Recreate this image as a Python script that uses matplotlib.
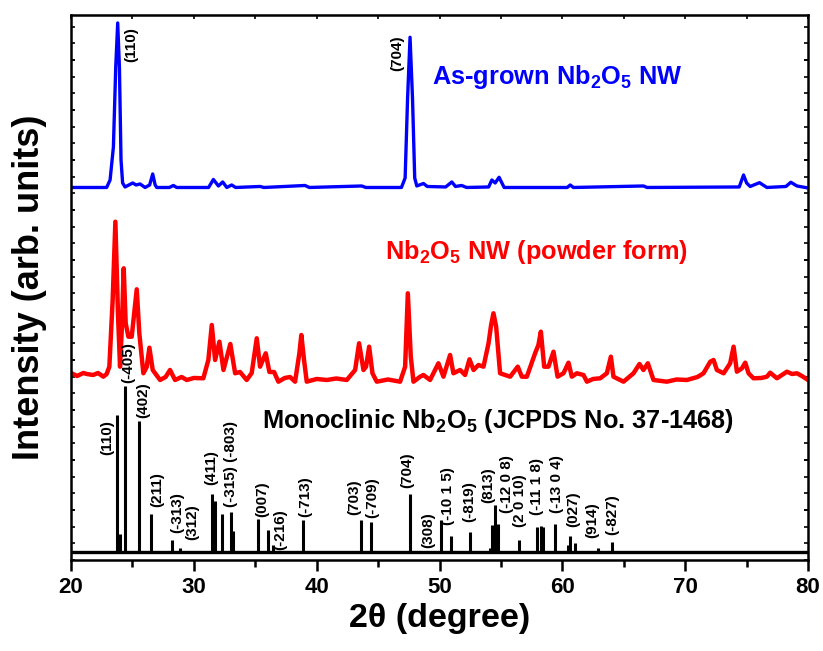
import numpy as np
import matplotlib
matplotlib.use("Agg")
from matplotlib import pyplot as plt
from matplotlib.ticker import MultipleLocator

plt.rcParams['font.family'] = ['Liberation Sans', 'DejaVu Sans']
plt.rcParams['font.weight'] = 'bold'
plt.rcParams['mathtext.default'] = 'regular'

# as-grown NW pattern (2theta, intensity above its own baseline)
blue_tt = [20.0, 22.9, 23.18, 23.45, 23.64, 23.8, 23.94, 24.07, 24.2, 24.4, 25.02, 25.3,
           25.62, 26.03, 26.4, 26.65, 26.85, 26.98, 28.0, 28.33, 28.6, 31.2, 31.59, 32.0,
           32.35, 32.68, 33.08, 33.4, 35.4, 35.7, 39.05, 39.4, 43.67, 44.0, 46.9, 47.2,
           47.4, 47.6, 47.8, 47.98, 48.15, 48.69, 49.0, 50.5, 51.0, 51.3, 51.8, 52.2,
           54.0, 54.26, 54.53, 54.85, 55.26, 60.4, 60.64, 60.9, 66.6, 66.9, 74.4, 74.75,
           75.0, 75.29, 76.05, 76.65, 78.2, 78.6, 79.1, 80.0]
blue_int = [0.5, 0.5, 8, 41, 121, 165, 121, 28, 5, 1, 5, 3,
            4, 0.5, 3, 14, 3, 0.5, 0.5, 2.5, 0.5, 0.5, 8.5, 2,
            6, 0.5, 3, 0.5, 1.5, 0.5, 2.5, 0.5, 2, 0.5, 0.5, 10,
            90, 150.7, 90, 10, 2, 4.5, 1.5, 1, 6, 1.5, 2.5, 0.5,
            1, 8, 5, 10.7, 0.5, 0.5, 3, 0.5, 2, 0.5, 1, 13,
            5, 1.5, 5.3, 0.5, 1.5, 5.7, 2, 0]

# powder pattern
red_tt = [20.05, 20.5, 21.0, 21.28, 21.8, 22.2, 22.63, 22.9, 23.12, 23.39, 23.61, 23.83,
          23.99, 24.13, 24.29, 24.45, 24.67, 24.94, 25.35, 25.56, 25.89, 26.16, 26.38, 26.65,
          27.25, 27.7, 28.06, 28.47, 29.0, 29.42, 30.0, 30.77, 31.18, 31.46, 31.73, 32.08,
          32.41, 32.97, 33.36, 33.76, 34.3, 34.71, 35.12, 35.39, 35.85, 36.15, 36.53, 36.88,
          37.4, 37.83, 38.24, 38.59, 38.75, 38.97, 39.19, 40.0, 40.82, 41.6, 42.45, 43.13,
          43.45, 43.81, 44.02, 44.27, 44.54, 44.89, 45.8, 46.79, 47.2, 47.42, 47.66, 47.88,
          48.42, 48.69, 49.23, 49.91, 50.32, 50.86, 51.13, 51.68, 52.08, 52.44, 52.77, 53.17,
          53.58, 53.99, 54.2, 54.39, 54.61, 54.93, 55.75, 56.37, 56.7, 57.11, 57.78, 58.05,
          58.25, 58.52, 58.87, 59.28, 59.61, 60.09, 60.5, 60.77, 61.18, 61.72, 62.0, 62.5,
          63.08, 63.62, 63.95, 64.16, 64.98, 65.79, 66.28, 66.6, 66.96, 67.42, 68.51, 69.3,
          70.14, 71.0, 71.49, 72.04, 72.31, 72.58, 73.13, 73.66, 73.94, 74.21, 74.62, 74.89,
          75.16, 75.56, 76.2, 76.65, 76.92, 77.47, 78.28, 78.7, 79.1, 79.5, 80.0]
red_int = [6.7, 4, 7, 6, 5, 7, 3.3, 6, 13.3, 80, 158.3, 63.3,
           13.3, 50, 111.7, 56.7, 43.3, 43.3, 90.7, 46.7, 6.7, 13, 32.3, 10,
           0, 3, 10, 0, 3, 0, 2, 1.7, 20, 55, 20, 38.3,
           10, 36, 6.7, 8, 0, 7, 41.7, 13.3, 26.7, 8, 8, -1.7,
           2, 3, -1.7, 26.7, 45, 20, -1.7, 1, 0, 1.5, 0, 10,
           36.7, 10, 13.3, 33.3, 6.7, -1.7, 0.5, -1.7, 13.3, 86.7, 23.3, -1.7,
           3.3, 5, 0, 16.7, 3.3, 25, 6.7, 10, 5, 20.7, 10, 15,
           13.3, 36.7, 55, 66.7, 53.3, 6.7, 3.3, 13.3, 3.3, 3.3, 26.7, 35,
           48.3, 13.3, 13.3, 28.3, 3.3, 6.7, 17.3, 3.3, 6.7, 5, -1.7, 1,
           1.7, 6.7, 23.3, 3.3, -1.7, 6.7, 16, 10, 16.7, 0, -1.7, 0.5,
           0, 3, 6.7, 18.3, 20, 10, 6.7, 16.7, 33.3, 8.3, 11.7, 17.3,
           6.7, 1.7, 2, 3.3, 7.3, 1.7, 8.3, 6, 6.7, 4, 0]

# JCPDS 37-1468 reference lines
ref_tt = [23.72, 23.99, 24.4, 25.5, 26.54, 28.2, 28.88, 31.5, 31.73, 32.27, 33.06, 33.2,
          35.25, 36.0, 36.48, 38.92, 43.59, 44.45, 47.58, 50.1, 50.97, 52.52, 54.15, 54.28,
          54.53, 54.75, 56.5, 57.9, 58.3, 58.46, 59.39, 60.42, 60.6, 61.07, 62.94, 64.03]
ref_int = [137, 18, 166, 131, 38, 12, 3.5, 58, 51, 38, 40, 21,
           33, 22, 7, 32, 32, 30, 58, 32, 16, 20, 4, 27,
           47, 28, 12, 25, 26, 25, 28, 7, 16, 9, 4, 10]

ref_labels = ["(110)", "(-405)", "(402)", "(211)", "(-313)", "(312)", "(411)", "(-315) (-803)",
              "(007)", "(-216)", "(-713)", "(703)", "(-709)", "(704)", "(308)", "(-10 1 5)",
              "(-819)", "(813)", "(-12 0 8)", "(2 0 10)", "(-11 1 8)", "(-13 0 4)", "(027)",
              "(914)", "(-827)"]
ref_label_tt = [22.93, 24.64, 25.86, 26.98, 28.66, 29.83, 31.38, 33.0,
                35.53, 37.02, 39.06, 43.05, 44.49, 47.39, 49.1, 50.72,
                52.43, 53.93, 55.48, 56.56, 57.92, 59.55, 60.86,
                62.45, 64.08]
ref_label_y = [97, 169, 134, 45, 19, 12, 67, 45,
               35, 2, 35, 37, 34, 64, 4, 27,
               30, 49, 39, 25, 37, 39, 25,
               14, 17]

ref_base = 8
red_base = 180
blue_base = 372

fig = plt.figure(figsize=(8.23, 6.51), dpi=100)
ax = fig.add_axes([0.0863, 0.1398, 0.8955, 0.8372])

ax.plot(blue_tt, np.array(blue_int) + blue_base, color='#0000ff', lw=2.4)
ax.plot(red_tt, np.array(red_int) + red_base, color='#ff0000', lw=3.2)

ax.vlines(ref_tt, ref_base, np.array(ref_int) + ref_base, color='black', lw=2.2)
ax.axhline(ref_base, color='black', lw=2.4)

for lab, x, y in zip(ref_labels, ref_label_tt, ref_label_y):
    ax.text(x, y + ref_base, lab, rotation=90, ha='center', va='bottom',
            fontsize=11, fontweight='bold')

ax.text(24.94, 533, "(110)", rotation=90, ha='center', va='top', fontsize=11, fontweight='bold')
ax.text(46.57, 525, "(704)", rotation=90, ha='center', va='top', fontsize=11, fontweight='bold')

ax.text(49.4, 483, "As-grown Nb$_2$O$_5$ NW", color='#0000ff', fontsize=18.3,
        fontweight='bold', va='center', ha='left')
ax.text(45.57, 308, "Nb$_2$O$_5$ NW (powder form)", color='#ff0000', fontsize=18.3,
        fontweight='bold', va='center', ha='left')
ax.text(35.55, 139, "Monoclinic Nb$_2$O$_5$ (JCPDS No. 37-1468)", color='black', fontsize=18.3,
        fontweight='bold', va='center', ha='left')

ax.set_xlim(20, 80)
ax.set_ylim(0, 545)
ax.xaxis.set_major_locator(MultipleLocator(10))
ax.xaxis.set_minor_locator(MultipleLocator(5))
ax.yaxis.set_major_locator(MultipleLocator(50))
ax.yaxis.set_minor_locator(MultipleLocator(16.67))
ax.tick_params(axis='x', which='major', direction='out', length=8, width=1.8,
               labelsize=16, pad=4, top=False)
ax.tick_params(axis='x', which='minor', direction='out', length=5, width=1.8, top=False)
ax.tick_params(axis='y', which='both', direction='in', length=3, width=1.2,
               left=True, right=True, labelleft=False)
for lab in ax.get_xticklabels():
    lab.set_fontweight('bold')

# small inward ticks along the top edge
axt = ax.secondary_xaxis('top')
axt.xaxis.set_major_locator(MultipleLocator(5))
axt.tick_params(direction='in', length=3, width=1.2, labeltop=False)

for s in ax.spines.values():
    s.set_linewidth(1.8)

ax.set_xlabel("2θ (degree)", fontsize=24.5, fontweight='bold', labelpad=4)
ax.set_ylabel("Intensity (arb. units)", fontsize=26, fontweight='bold')
ax.yaxis.set_label_coords(-0.032, 0.5)

fig.savefig("out.png", dpi=100)
